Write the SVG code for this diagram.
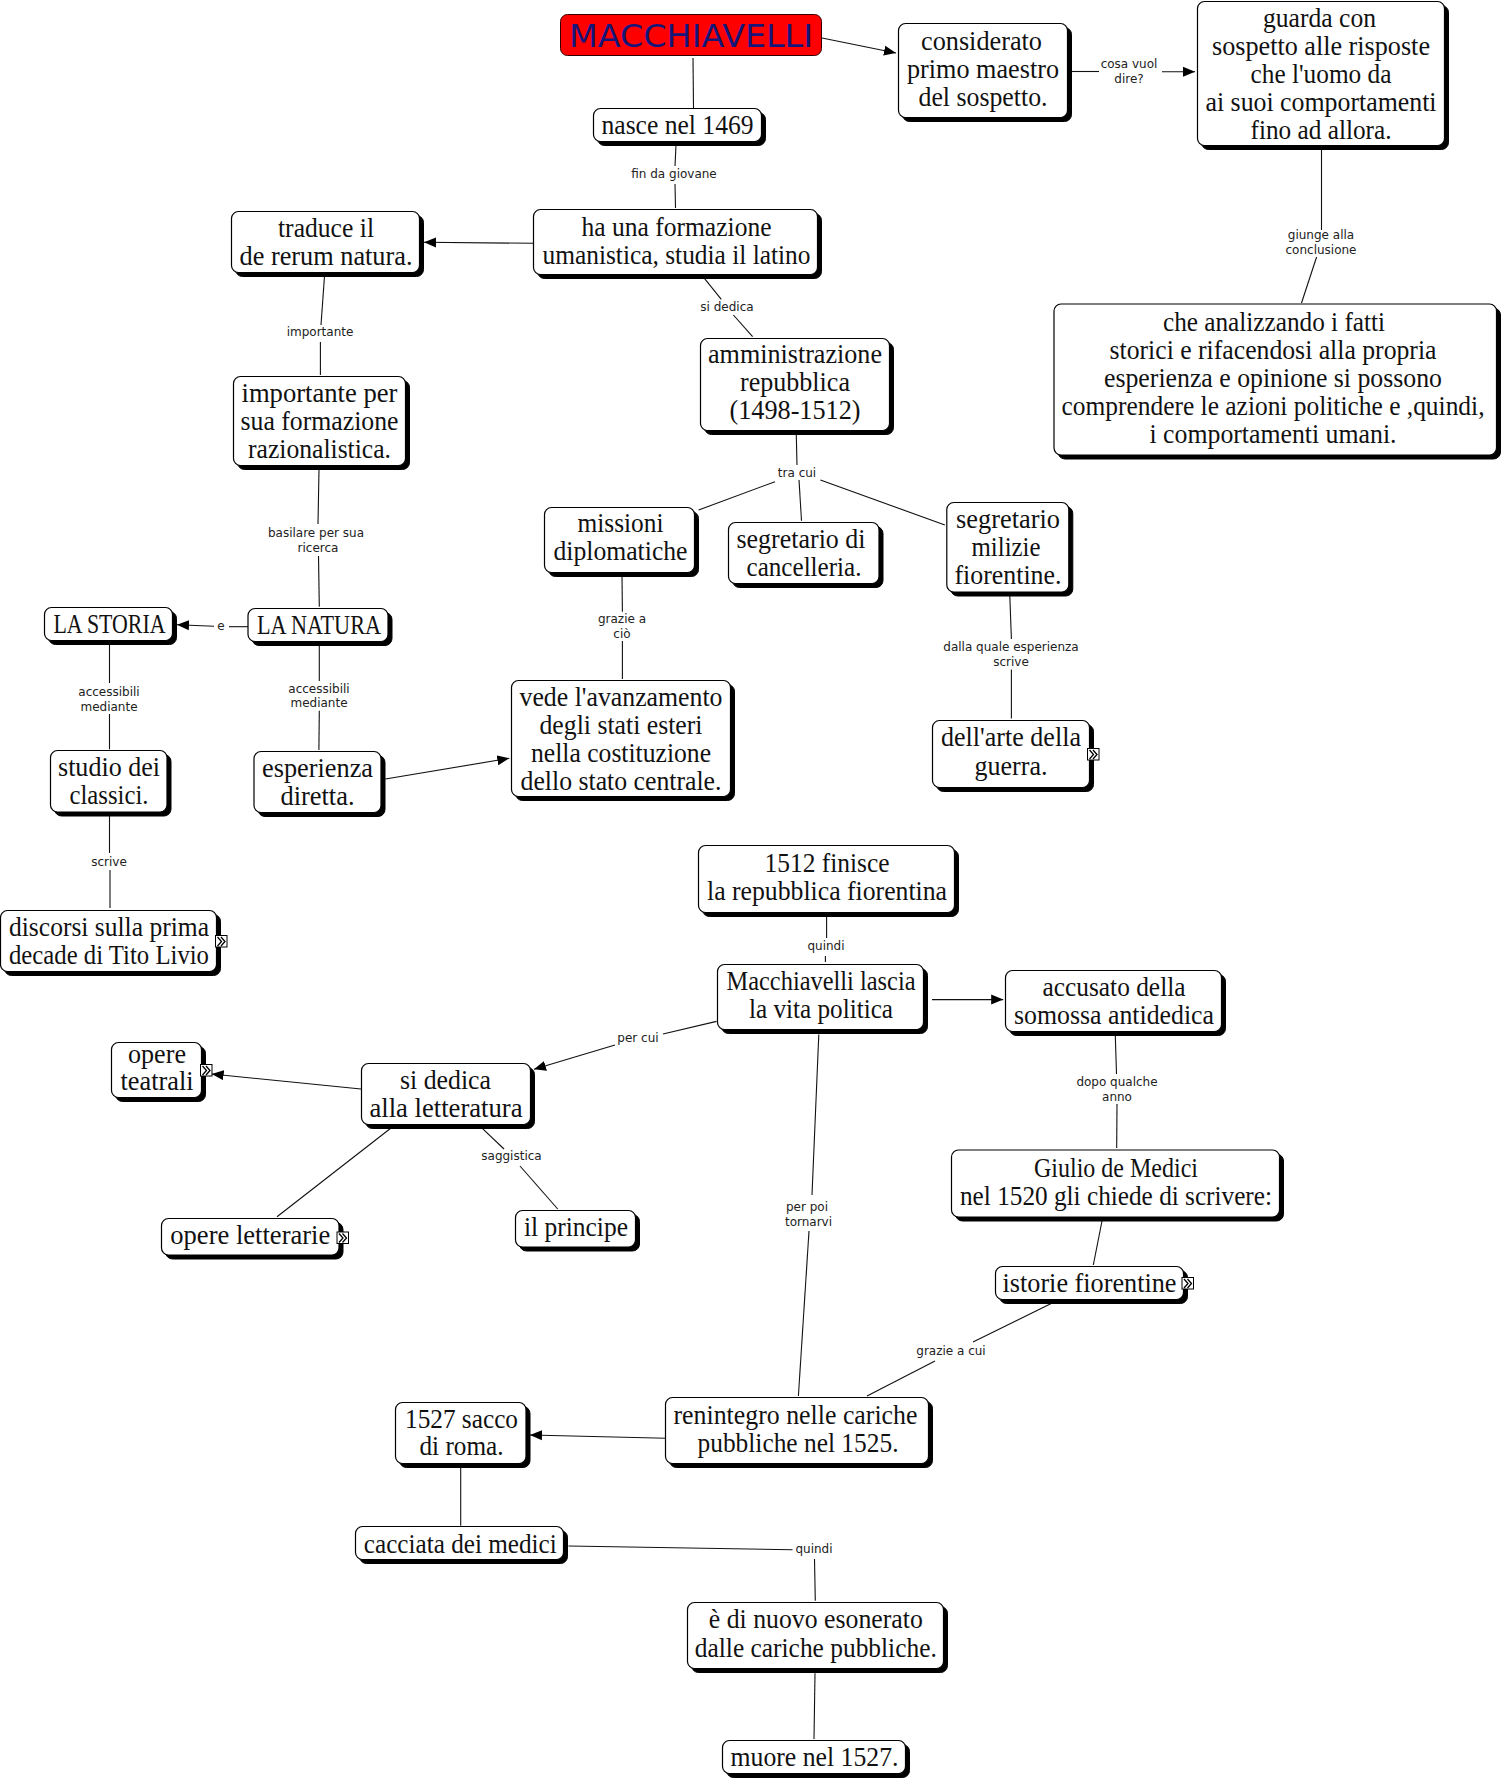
<svg xmlns="http://www.w3.org/2000/svg" width="1503" height="1779" viewBox="0 0 1503 1779">
<style>
.s{fill:#000;stroke:#000;stroke-width:1}
.b{fill:#fff;stroke:#000;stroke-width:1.2}
.t{font-family:"Liberation Serif",serif;font-size:27px;fill:#111;text-anchor:middle;transform:translateY(1px)}
.l{font-family:"DejaVu Sans",sans-serif;font-size:12px;fill:#222;text-anchor:middle}
.c line{stroke:#111;stroke-width:1.1}
.a{marker-end:url(#ah)}
</style>
<defs>
<marker id="ah" markerUnits="userSpaceOnUse" markerWidth="13" markerHeight="11" refX="12" refY="5.500" orient="auto"><path d="M0 0.500L12 5.500L0 10.500Z" fill="#000"/></marker>
<g id="lk"><rect x="0" y="0" width="11.500" height="11.500" fill="#fff" stroke="#000" stroke-width="1"/><path d="M2 1.500L6 6L2 10.500M5.500 1.500L9.500 6L5.500 10.500" fill="none" stroke="#000" stroke-width="1.300"/></g>
</defs>
<rect width="1503" height="1779" fill="#fff"/>
<g id="connectors" class="c">
<line x1="693" y1="58" x2="693.500" y2="108"/>
<line class="a" x1="822" y1="38" x2="896" y2="53"/>
<line x1="676" y1="145" x2="675" y2="166"/>
<line x1="675" y1="184" x2="675.500" y2="208"/>
<line x1="1072" y1="71.500" x2="1099" y2="71.500"/>
<line class="a" x1="1162" y1="71.700" x2="1195" y2="71.700"/>
<line x1="1321.500" y1="150" x2="1321.500" y2="230"/>
<line x1="1316.600" y1="257" x2="1301.500" y2="303"/>
<line class="a" x1="533.400" y1="243.300" x2="424" y2="242.300"/>
<line x1="704.400" y1="278.300" x2="721.300" y2="299.300"/>
<line x1="733.400" y1="315" x2="752.600" y2="336.700"/>
<line x1="324.500" y1="276" x2="321" y2="325"/>
<line x1="320.400" y1="342" x2="320.400" y2="375"/>
<line x1="319" y1="469" x2="318" y2="524"/>
<line x1="318.500" y1="556" x2="319.300" y2="606.700"/>
<line x1="248" y1="626.700" x2="229" y2="626.700"/>
<line class="a" x1="214" y1="626.300" x2="177" y2="624.700"/>
<line x1="319.300" y1="645" x2="319.300" y2="681"/>
<line x1="319.300" y1="710.700" x2="318.900" y2="750"/>
<line x1="109.500" y1="644" x2="109.500" y2="683"/>
<line x1="109.500" y1="714" x2="109.500" y2="749.300"/>
<line x1="109.500" y1="815" x2="109.500" y2="853"/>
<line x1="110" y1="870" x2="110" y2="908"/>
<line class="a" x1="385.400" y1="779" x2="509.300" y2="758.300"/>
<line x1="796.300" y1="435" x2="797" y2="465"/>
<line x1="775" y1="481.700" x2="698.600" y2="510"/>
<line x1="799" y1="480" x2="801.500" y2="520.700"/>
<line x1="820.400" y1="480" x2="944.900" y2="525"/>
<line x1="622" y1="575" x2="622.400" y2="611.700"/>
<line x1="622.400" y1="641" x2="622.400" y2="679"/>
<line x1="1009.800" y1="595.400" x2="1011.400" y2="639"/>
<line x1="1011.400" y1="669.600" x2="1011.400" y2="718.600"/>
<line x1="826.600" y1="915.700" x2="826.600" y2="938"/>
<line x1="825.400" y1="956" x2="825.400" y2="962"/>
<line class="a" x1="932" y1="999.600" x2="1003.200" y2="999.600"/>
<line x1="716.500" y1="1021.400" x2="663" y2="1034"/>
<line class="a" x1="615" y1="1045" x2="534" y2="1069.300"/>
<line class="a" x1="361" y1="1089" x2="211.700" y2="1074"/>
<line x1="390.700" y1="1128.300" x2="277" y2="1216.700"/>
<line x1="482.300" y1="1128.300" x2="504" y2="1149"/>
<line x1="520" y1="1166" x2="557.700" y2="1209"/>
<line x1="1115.300" y1="1035.700" x2="1116.500" y2="1074"/>
<line x1="1117" y1="1104" x2="1116.700" y2="1148"/>
<line x1="1102" y1="1221" x2="1093.300" y2="1265"/>
<line x1="1051.700" y1="1303.300" x2="973" y2="1342"/>
<line x1="935" y1="1361" x2="867" y2="1396"/>
<line x1="818.800" y1="1034.600" x2="812" y2="1195"/>
<line x1="809" y1="1231" x2="798.400" y2="1396"/>
<line class="a" x1="666" y1="1438.300" x2="530" y2="1435"/>
<line x1="460.700" y1="1467.300" x2="460.700" y2="1525.700"/>
<line x1="568.400" y1="1546" x2="792.500" y2="1549.700"/>
<line x1="814.500" y1="1559" x2="815.300" y2="1600.700"/>
<line x1="815" y1="1673.300" x2="814" y2="1739"/>
</g>
<g id="labels">
<text class="l" x="674" y="178">fin da giovane</text>
<text class="l" x="1129" y="68">cosa vuol</text><text class="l" x="1129" y="82.500">dire?</text>
<text class="l" x="1321" y="239">giunge alla</text><text class="l" x="1321" y="254">conclusione</text>
<text class="l" x="727" y="311">si dedica</text>
<text class="l" x="320" y="335.500">importante</text>
<text class="l" x="316" y="537">basilare per sua</text><text class="l" x="318" y="551.500">ricerca</text>
<text class="l" x="221" y="630">e</text>
<text class="l" x="319" y="693">accessibili</text><text class="l" x="319" y="707">mediante</text>
<text class="l" x="109" y="696">accessibili</text><text class="l" x="109" y="710.500">mediante</text>
<text class="l" x="109" y="865.500">scrive</text>
<text class="l" x="797" y="476.500">tra cui</text>
<text class="l" x="622" y="623">grazie a</text><text class="l" x="622" y="637.500">ciò</text>
<text class="l" x="1011" y="651">dalla quale esperienza</text><text class="l" x="1011" y="665.500">scrive</text>
<text class="l" x="826" y="949.500">quindi</text>
<text class="l" x="638" y="1041.500">per cui</text>
<text class="l" x="511.500" y="1159.500">saggistica</text>
<text class="l" x="1117" y="1086">dopo qualche</text><text class="l" x="1117" y="1100.500">anno</text>
<text class="l" x="951" y="1354.500">grazie a cui</text>
<text class="l" x="807" y="1211">per poi</text><text class="l" x="808.500" y="1225.500">tornarvi</text>
<text class="l" x="814" y="1553">quindi</text>
</g>
<g id="n1"><rect x="560.500" y="14.500" width="261" height="41" rx="7" fill="#f00" stroke="#300" stroke-width="1"/><text x="691" y="47" font-family="'DejaVu Sans',sans-serif" font-size="32" fill="#16167a" text-anchor="middle" textLength="244" lengthAdjust="spacingAndGlyphs">MACCHIAVELLI</text></g>
<g id="n2"><rect class="s" x="597.500" y="112.500" width="168" height="33" rx="7"/><rect class="b" x="593.500" y="108.500" width="168" height="33" rx="7"/><text class="t" x="677.500" y="133" textLength="152" lengthAdjust="spacingAndGlyphs">nasce nel 1469</text></g>
<g id="n3"><rect class="s" x="902.500" y="27.500" width="169" height="94" rx="7"/><rect class="b" x="898.500" y="23.500" width="169" height="94" rx="7"/><text class="t" x="981.500" y="49" textLength="121" lengthAdjust="spacingAndGlyphs">considerato</text><text class="t" x="983" y="77" textLength="152" lengthAdjust="spacingAndGlyphs">primo maestro</text><text class="t" x="983" y="105" textLength="129" lengthAdjust="spacingAndGlyphs">del sospetto.</text></g>
<g id="n4"><rect class="s" x="1201.500" y="5.500" width="247" height="144" rx="7"/><rect class="b" x="1197.500" y="1.500" width="247" height="144" rx="7"/><text class="t" x="1319.500" y="26" textLength="113" lengthAdjust="spacingAndGlyphs">guarda con</text><text class="t" x="1321" y="54" textLength="218" lengthAdjust="spacingAndGlyphs">sospetto alle risposte</text><text class="t" x="1321" y="82" textLength="141" lengthAdjust="spacingAndGlyphs">che l'uomo da</text><text class="t" x="1321" y="110" textLength="231" lengthAdjust="spacingAndGlyphs">ai suoi comportamenti</text><text class="t" x="1321" y="138" textLength="141" lengthAdjust="spacingAndGlyphs">fino ad allora.</text></g>
<g id="n5"><rect class="s" x="1058" y="308" width="442.500" height="151" rx="7"/><rect class="b" x="1054" y="304" width="442.500" height="151" rx="7"/><text class="t" x="1274" y="330" textLength="222" lengthAdjust="spacingAndGlyphs">che analizzando i fatti</text><text class="t" x="1273" y="358" textLength="327" lengthAdjust="spacingAndGlyphs">storici e rifacendosi alla propria</text><text class="t" x="1273" y="386" textLength="338" lengthAdjust="spacingAndGlyphs">esperienza e opinione si possono</text><text class="t" x="1273" y="414" textLength="423" lengthAdjust="spacingAndGlyphs">comprendere le azioni politiche e ,quindi,</text><text class="t" x="1273" y="442" textLength="247" lengthAdjust="spacingAndGlyphs">i comportamenti umani.</text></g>
<g id="n6"><rect class="s" x="537.500" y="213.500" width="284" height="65" rx="7"/><rect class="b" x="533.500" y="209.500" width="284" height="65" rx="7"/><text class="t" x="676.500" y="235" textLength="190" lengthAdjust="spacingAndGlyphs">ha una formazione</text><text class="t" x="676.500" y="263" textLength="268" lengthAdjust="spacingAndGlyphs">umanistica, studia il latino</text></g>
<g id="n7"><rect class="s" x="235.500" y="215.500" width="188" height="61" rx="7"/><rect class="b" x="231.500" y="211.500" width="188" height="61" rx="7"/><text class="t" x="326" y="236" textLength="96" lengthAdjust="spacingAndGlyphs">traduce il</text><text class="t" x="326" y="264" textLength="173" lengthAdjust="spacingAndGlyphs">de rerum natura.</text></g>
<g id="n8"><rect class="s" x="704.500" y="342.500" width="189" height="92" rx="7"/><rect class="b" x="700.500" y="338.500" width="189" height="92" rx="7"/><text class="t" x="795" y="362.300" textLength="174" lengthAdjust="spacingAndGlyphs">amministrazione</text><text class="t" x="795" y="390.300" textLength="110" lengthAdjust="spacingAndGlyphs">repubblica</text><text class="t" x="795" y="418.300" textLength="131" lengthAdjust="spacingAndGlyphs">(1498-1512)</text></g>
<g id="n9"><rect class="s" x="237.500" y="380.500" width="172" height="89" rx="7"/><rect class="b" x="233.500" y="376.500" width="172" height="89" rx="7"/><text class="t" x="319.500" y="401" textLength="156" lengthAdjust="spacingAndGlyphs">importante per</text><text class="t" x="319.500" y="429" textLength="158" lengthAdjust="spacingAndGlyphs">sua formazione</text><text class="t" x="319.500" y="457" textLength="143" lengthAdjust="spacingAndGlyphs">razionalistica.</text></g>
<g id="n10"><rect class="s" x="548.500" y="511.500" width="150" height="65" rx="7"/><rect class="b" x="544.500" y="507.500" width="150" height="65" rx="7"/><text class="t" x="620.500" y="531" textLength="86" lengthAdjust="spacingAndGlyphs">missioni</text><text class="t" x="620.500" y="559" textLength="134" lengthAdjust="spacingAndGlyphs">diplomatiche</text></g>
<g id="n11"><rect class="s" x="732.500" y="526.500" width="150.500" height="61" rx="7"/><rect class="b" x="728.500" y="522.500" width="150.500" height="61" rx="7"/><text class="t" x="801" y="547" textLength="129" lengthAdjust="spacingAndGlyphs">segretario di</text><text class="t" x="804" y="575" textLength="115" lengthAdjust="spacingAndGlyphs">cancelleria.</text></g>
<g id="n12"><rect class="s" x="950.800" y="506.500" width="122" height="89.500" rx="7"/><rect class="b" x="946.800" y="502.500" width="122" height="89.500" rx="7"/><text class="t" x="1008" y="526.500" textLength="104" lengthAdjust="spacingAndGlyphs">segretario</text><text class="t" x="1006" y="554.500" textLength="69" lengthAdjust="spacingAndGlyphs">milizie</text><text class="t" x="1008" y="582.500" textLength="107" lengthAdjust="spacingAndGlyphs">fiorentine.</text></g>
<g id="n13"><rect class="s" x="48.500" y="611.500" width="128" height="33" rx="7"/><rect class="b" x="44.500" y="607.500" width="128" height="33" rx="7"/><text class="t" x="109.500" y="632" textLength="112" lengthAdjust="spacingAndGlyphs">LA STORIA</text></g>
<g id="n14"><rect class="s" x="252" y="612.500" width="140" height="33" rx="7"/><rect class="b" x="248" y="608.500" width="140" height="33" rx="7"/><text class="t" x="319" y="633" textLength="124" lengthAdjust="spacingAndGlyphs">LA NATURA</text></g>
<g id="n15"><rect class="s" x="54.500" y="754.500" width="116.500" height="61.500" rx="7"/><rect class="b" x="50.500" y="750.500" width="116.500" height="61.500" rx="7"/><text class="t" x="109" y="775" textLength="102" lengthAdjust="spacingAndGlyphs">studio dei</text><text class="t" x="109" y="803" textLength="79" lengthAdjust="spacingAndGlyphs">classici.</text></g>
<g id="n16"><rect class="s" x="258" y="755.500" width="127" height="61" rx="7"/><rect class="b" x="254" y="751.500" width="127" height="61" rx="7"/><text class="t" x="317.500" y="775.700" textLength="111" lengthAdjust="spacingAndGlyphs">esperienza</text><text class="t" x="317.500" y="803.500" textLength="74" lengthAdjust="spacingAndGlyphs">diretta.</text></g>
<g id="n17"><rect class="s" x="515.500" y="684.500" width="219" height="116" rx="7"/><rect class="b" x="511.500" y="680.500" width="219" height="116" rx="7"/><text class="t" x="621" y="704.500" textLength="203" lengthAdjust="spacingAndGlyphs">vede l'avanzamento</text><text class="t" x="621" y="732.700" textLength="163" lengthAdjust="spacingAndGlyphs">degli stati esteri</text><text class="t" x="621" y="760.700" textLength="180" lengthAdjust="spacingAndGlyphs">nella costituzione</text><text class="t" x="621" y="788.700" textLength="201" lengthAdjust="spacingAndGlyphs">dello stato centrale.</text></g>
<g id="n18"><rect class="s" x="936.500" y="724.500" width="157" height="67" rx="7"/><rect class="b" x="932.500" y="720.500" width="157" height="67" rx="7"/><text class="t" x="1011" y="745" textLength="140" lengthAdjust="spacingAndGlyphs">dell'arte della</text><text class="t" x="1011" y="773.500" textLength="73" lengthAdjust="spacingAndGlyphs">guerra.</text><use href="#lk" x="1087.500" y="748.500"/></g>
<g id="n19"><rect class="s" x="4.500" y="914.500" width="216" height="61" rx="7"/><rect class="b" x="0.500" y="910.500" width="216" height="61" rx="7"/><text class="t" x="109" y="935" textLength="200" lengthAdjust="spacingAndGlyphs">discorsi sulla prima</text><text class="t" x="109" y="963" textLength="200" lengthAdjust="spacingAndGlyphs">decade di Tito Livio</text><use href="#lk" x="215.500" y="935.500"/></g>
<g id="n20"><rect class="s" x="702.500" y="849.500" width="256" height="67" rx="7"/><rect class="b" x="698.500" y="845.500" width="256" height="67" rx="7"/><text class="t" x="827" y="870.500" textLength="125" lengthAdjust="spacingAndGlyphs">1512 finisce</text><text class="t" x="827" y="899" textLength="240" lengthAdjust="spacingAndGlyphs">la repubblica fiorentina</text></g>
<g id="n21"><rect class="s" x="721.500" y="968.500" width="206" height="65" rx="7"/><rect class="b" x="717.500" y="964.500" width="206" height="65" rx="7"/><text class="t" x="821" y="988.500" textLength="189" lengthAdjust="spacingAndGlyphs">Macchiavelli lascia</text><text class="t" x="821" y="1017" textLength="144" lengthAdjust="spacingAndGlyphs">la vita politica</text></g>
<g id="n22"><rect class="s" x="1009.500" y="974.500" width="216" height="61" rx="7"/><rect class="b" x="1005.500" y="970.500" width="216" height="61" rx="7"/><text class="t" x="1114" y="994.500" textLength="143" lengthAdjust="spacingAndGlyphs">accusato della</text><text class="t" x="1114" y="1023" textLength="200" lengthAdjust="spacingAndGlyphs">somossa antidedica</text></g>
<g id="n23"><rect class="s" x="115.500" y="1046.500" width="90" height="55" rx="7"/><rect class="b" x="111.500" y="1042.500" width="90" height="55" rx="7"/><text class="t" x="157" y="1061.700" textLength="58" lengthAdjust="spacingAndGlyphs">opere</text><text class="t" x="157" y="1089.300" textLength="73" lengthAdjust="spacingAndGlyphs">teatrali</text><use href="#lk" x="200.500" y="1064.500"/></g>
<g id="n24"><rect class="s" x="365.500" y="1067.500" width="169" height="61" rx="7"/><rect class="b" x="361.500" y="1063.500" width="169" height="61" rx="7"/><text class="t" x="445.500" y="1087.700" textLength="91" lengthAdjust="spacingAndGlyphs">si dedica</text><text class="t" x="446" y="1115.700" textLength="153" lengthAdjust="spacingAndGlyphs">alla letteratura</text></g>
<g id="n25"><rect class="s" x="165.500" y="1222.500" width="177.500" height="36.500" rx="7"/><rect class="b" x="161.500" y="1218.500" width="177.500" height="36.500" rx="7"/><text class="t" x="250.300" y="1242.700" textLength="160" lengthAdjust="spacingAndGlyphs">opere letterarie</text><use href="#lk" x="337" y="1232"/></g>
<g id="n26"><rect class="s" x="519.500" y="1214.500" width="120" height="36.500" rx="7"/><rect class="b" x="515.500" y="1210.500" width="120" height="36.500" rx="7"/><text class="t" x="576" y="1234.500" textLength="104" lengthAdjust="spacingAndGlyphs">il principe</text></g>
<g id="n27"><rect class="s" x="955.500" y="1154" width="328" height="67" rx="7"/><rect class="b" x="951.500" y="1150" width="328" height="67" rx="7"/><text class="t" x="1116" y="1175.700" textLength="164" lengthAdjust="spacingAndGlyphs">Giulio de Medici</text><text class="t" x="1116" y="1204" textLength="312" lengthAdjust="spacingAndGlyphs">nel 1520 gli chiede di scrivere:</text></g>
<g id="n28"><rect class="s" x="999.500" y="1270.500" width="188" height="33" rx="7"/><rect class="b" x="995.500" y="1266.500" width="188" height="33" rx="7"/><text class="t" x="1089.500" y="1290.700" textLength="174" lengthAdjust="spacingAndGlyphs">istorie fiorentine</text><use href="#lk" x="1182" y="1277.500"/></g>
<g id="n29"><rect class="s" x="669.500" y="1401.500" width="263" height="66" rx="7"/><rect class="b" x="665.500" y="1397.500" width="263" height="66" rx="7"/><text class="t" x="795.500" y="1422.700" textLength="244" lengthAdjust="spacingAndGlyphs">renintegro nelle cariche</text><text class="t" x="798" y="1450.700" textLength="201" lengthAdjust="spacingAndGlyphs">pubbliche nel 1525.</text></g>
<g id="n30"><rect class="s" x="399.500" y="1406.500" width="130.500" height="61" rx="7"/><rect class="b" x="395.500" y="1402.500" width="130.500" height="61" rx="7"/><text class="t" x="461.500" y="1426.700" textLength="113" lengthAdjust="spacingAndGlyphs">1527 sacco</text><text class="t" x="461.500" y="1454.300" textLength="84" lengthAdjust="spacingAndGlyphs">di roma.</text></g>
<g id="n31"><rect class="s" x="359.500" y="1530.500" width="208" height="33" rx="7"/><rect class="b" x="355.500" y="1526.500" width="208" height="33" rx="7"/><text class="t" x="460.300" y="1552.300" textLength="193" lengthAdjust="spacingAndGlyphs">cacciata dei medici</text></g>
<g id="n32"><rect class="s" x="691.500" y="1606.500" width="256" height="66" rx="7"/><rect class="b" x="687.500" y="1602.500" width="256" height="66" rx="7"/><text class="t" x="815.800" y="1627.300" textLength="214" lengthAdjust="spacingAndGlyphs">è di nuovo esonerato</text><text class="t" x="815.800" y="1655.700" textLength="242" lengthAdjust="spacingAndGlyphs">dalle cariche pubbliche.</text></g>
<g id="n33"><rect class="s" x="726.500" y="1744.500" width="183" height="33" rx="7"/><rect class="b" x="722.500" y="1740.500" width="183" height="33" rx="7"/><text class="t" x="814.500" y="1765" textLength="168" lengthAdjust="spacingAndGlyphs">muore nel 1527.</text></g>
</svg>
